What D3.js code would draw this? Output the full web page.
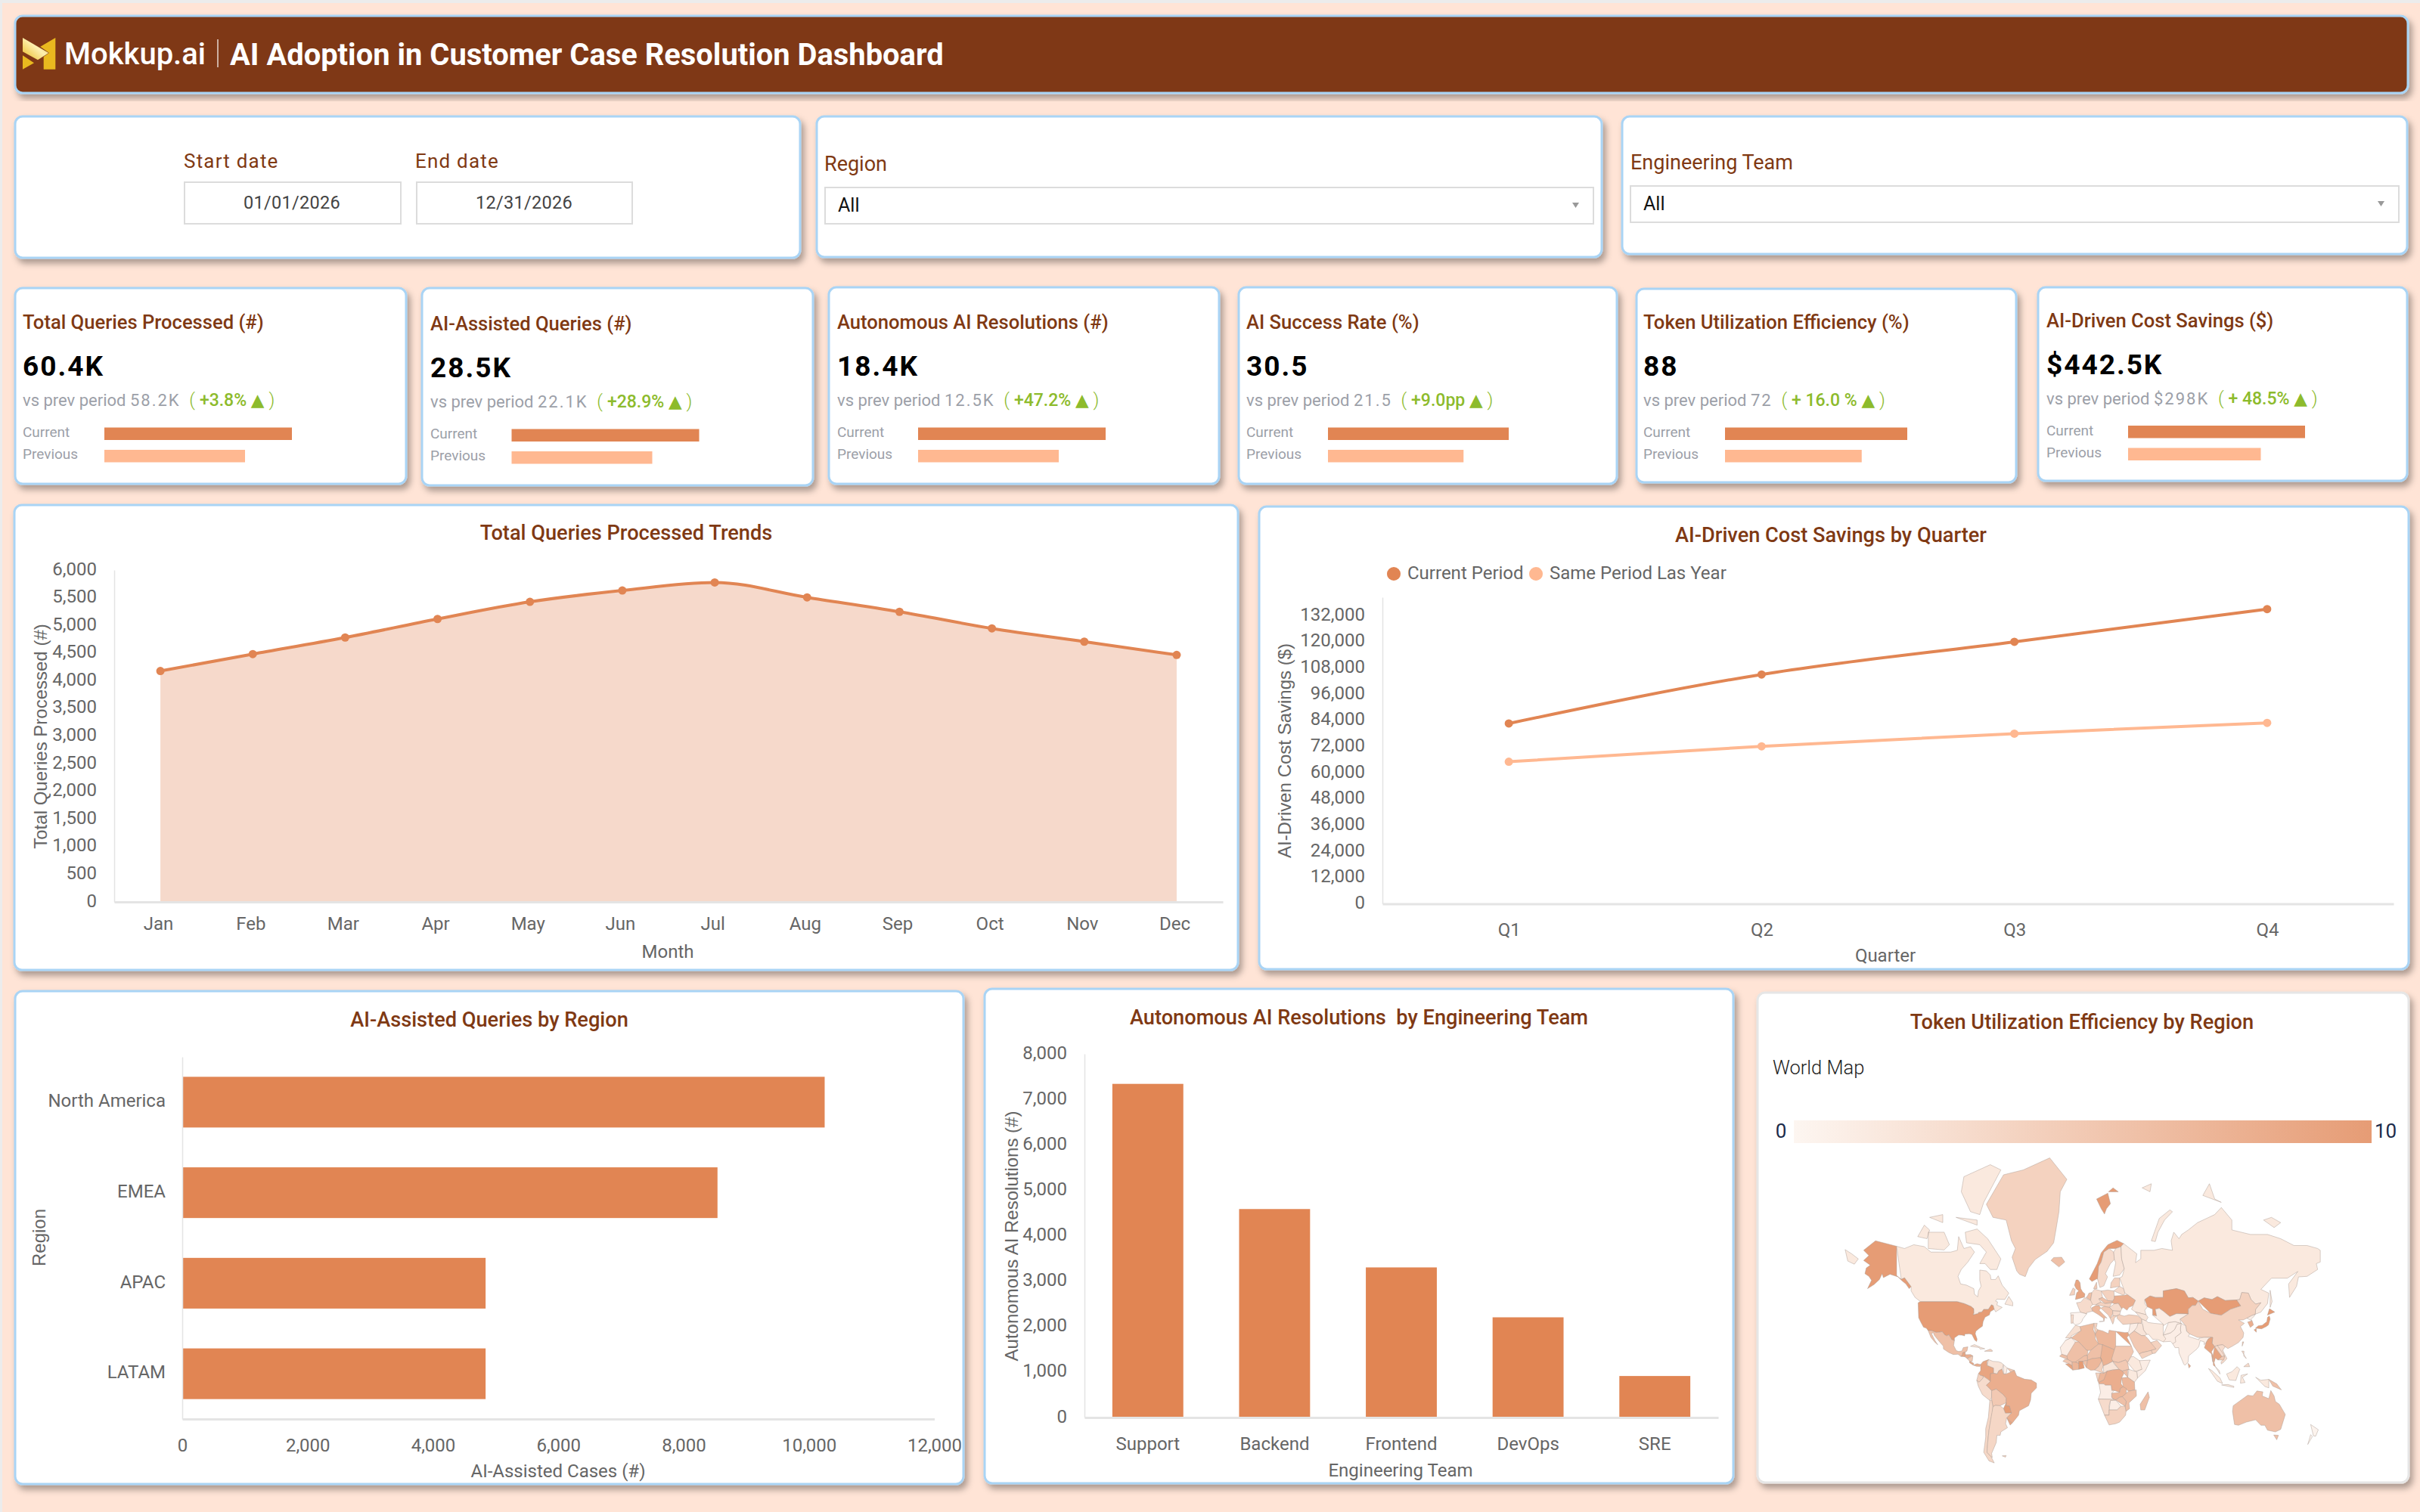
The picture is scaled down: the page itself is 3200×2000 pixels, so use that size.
<!DOCTYPE html>
<html lang="en">
<head>
<meta charset="utf-8">
<title>AI Adoption in Customer Case Resolution Dashboard</title>
<style type="text/css">
    html, body { margin: 0; padding: 0; background: #ffe4d6; overflow: hidden; }
    svg { display: block; }
    text { font-family: Roboto, sans-serif; white-space: pre; }
    .tick text, .tick-label { font-size: 24px; fill: #666; }
    .card-title { font-size: 27.2px; font-weight: 500; fill: #7f3913; text-anchor: middle; }
    .axis-title { font-size: 24px; fill: #666; text-anchor: middle; }
    .axis-title-y { font-family: "Liberation Sans", Arial, sans-serif; font-size: 24px; fill: #666; text-anchor: middle; }
    .filter-label { font-size: 26px; fill: #7f3913; }
</style>
<script src="https://d3js.org/d3.v7.min.js"></script>
</head>
<body>
<script type="text/JavaScript">

// KPI cards
var kpiTitles = ["Total Queries Processed (#)", "AI-Assisted Queries (#)", "Autonomous AI Resolutions (#)", "AI Success Rate (%)", "Token Utilization Efficiency (%)", "AI-Driven Cost Savings ($)"];
var kpiValues = ["60.4K", "28.5K", "18.4K", "30.5", "88", "$442.5K"];
var kpiPrev = ["58.2K", "22.1K", "12.5K", "21.5", "72", "$298K"];
var kpiDelta = ["+3.8%", "+28.9%", "+47.2%", "+9.0pp", "+ 16.0 %", "+ 48.5%"];
var kpiBarCurrent = [100, 100, 100, 100, 100, 100];
var kpiBarPrevious = [75, 75, 75, 75, 75, 75];

// monthly trend
var months = ["Jan", "Feb", "Mar", "Apr", "May", "Jun", "Jul", "Aug", "Sep", "Oct", "Nov", "Dec"];
var monthlyQueries = [4175, 4480, 4780, 5115, 5425, 5630, 5775, 5505, 5245, 4945, 4705, 4465];
var trendTicks = [0, 500, 1000, 1500, 2000, 2500, 3000, 3500, 4000, 4500, 5000, 5500, 6000];

// savings by quarter
var quarters = ["Q1", "Q2", "Q3", "Q4"];
var savingsCurrent = [82590, 105030, 120000, 134960];
var savingsLastYear = [65080, 72140, 77930, 82870];
var savingsTicks = [0, 12000, 24000, 36000, 48000, 60000, 72000, 84000, 96000, 108000, 120000, 132000];

// queries by region
var regions = ["North America", "EMEA", "APAC", "LATAM"];
var regionQueries = [10250, 8540, 4840, 4840];
var regionTicks = [0, 2000, 4000, 6000, 8000, 10000, 12000];

// resolutions by team
var teams = ["Support", "Backend", "Frontend", "DevOps", "SRE"];
var teamResolutions = [7340, 4586, 3302, 2204, 913];
var teamTicks = [0, 1000, 2000, 3000, 4000, 5000, 6000, 7000, 8000];

// token efficiency by country, 0-10, read from the shading of the map
var mapValues = {
    USA: 10, Canada: 1.5, Greenland: 4, Mexico: 6, Guatemala: 9, Honduras: 8, Nicaragua: 5, CostaRica: 9, Panama: 8, Cuba: 2, Hispaniola: 4,
    Colombia: 9, Venezuela: 2, Guyana: 1, Suriname: 5, Ecuador: 4, Peru: 3, Bolivia: 5, Brazil: 8, Paraguay: 10, Uruguay: 9, Chile: 3.5, Argentina: 3.5, Falklands: 4,
    Iceland: 6, UK: 9, Ireland: 4, Norway: 10, Sweden: 3, Finland: 2, Denmark: 5, Netherlands: 6, France: 3, Spain: 0.2, Portugal: 3, Germany: 3, Poland: 4, Czechia: 6, Austria: 4, Italy: 7, Sicily: 7, Balkans: 5, Greece: 4, Bulgaria: 3, Romania: 3, Ukraine: 8, Belarus: 3, Baltics: 4,
    Russia: 1.5, Svalbard: 10, Kazakhstan: 10, Mongolia: 10, China: 4, NorthKorea: 1, SouthKorea: 8, Japan: 10, Taiwan: 5, India: 1, SriLanka: 8, Pakistan: 1, Afghanistan: 1, Iran: 1.5, Iraq: 2, Levant: 1, Turkey: 4, Caucasus: 2, Saudi: 5, Yemen: 4, Oman: 4, CentralAsia: 1,
    Myanmar: 9, Thailand: 9, Laos: 3, Vietnam: 3, Cambodia: 5, Malaysia: 1.5, Indonesia: 1.5, Philippines: 3, PapuaNewGuinea: 6, Australia: 6, NewZealand: 0.3,
    Morocco: 2.5, WesternSahara: 1, Algeria: 6.5, Tunisia: 4, Libya: 7, Egypt: 9, Mauritania: 1, Mali: 6, Niger: 6, Chad: 7.5, Sudan: 5, SouthSudan: 5, Senegal: 6, Guinea: 5, SierraLeone: 9, IvoryCoast: 7, BurkinaFaso: 6, Ghana: 10, Benin: 6, Nigeria: 7, Cameroon: 4, CAR: 2, Gabon: 4, Congo: 7, DRCongo: 8, Angola: 1, Ethiopia: 1.5, Somalia: 1, Kenya: 1.5, Uganda: 6, Tanzania: 7, Zambia: 7, Mozambique: 6, Zimbabwe: 6, Botswana: 1, Namibia: 3, SouthAfrica: 4, Madagascar: 6
};

// simplified country outlines as "lon,lat" rings
var mapShapes = {
    USA: ["-124.7,48.4 -123,49 -95.2,49 -89.6,48 -84.5,46.5 -82.5,45.3 -82.4,43 -83,42 -79,42.8 -79,43.3 -76.5,43.6 -75,45 -71.5,45 -69.2,47.4 -67.8,47 -67,45 -70,43.7 -70.7,41.9 -74,40.6 -75.5,38 -76,35.2 -78.5,33.8 -81,32 -81.4,30.4 -80,26.8 -80.4,25.2 -81.8,26.2 -82.8,28 -84,30 -86,30.4 -89.4,30.2 -89.4,29 -91.5,29.5 -94,29.6 -97.2,27.7 -97.2,25.9 -99.2,26.5 -101.4,29.8 -103,29 -104.5,29.7 -106.5,31.8 -108.2,31.5 -111,31.3 -114.8,32.5 -117.1,32.5 -118.5,34 -120.6,34.6 -122.4,37.3 -124.3,40.3 -124,44",
        "-141,69.6 -141,60.3 -137.5,58.9 -135,59.5 -130,55.9 -131.5,55 -134,57 -137,58.3 -140,59.8 -146,60.8 -151,59.5 -152,61 -154,58.8 -158,56.8 -163,55 -160,58.5 -162,60 -165,61 -164,63 -161,64 -166,65.5 -162,67 -166,68.5 -157,71 -148,70.4"],
    Canada: ["-141,69.6 -135,69 -128,70 -120,69.5 -115,68 -108,68 -100,68 -95,68.5 -94,72 -90,69 -85,69.5 -82,68 -87,65 -92,62.5 -94.5,60 -92.5,57 -88,56.5 -82.5,55 -82,52.5 -79.5,51.3 -79,54 -77,56 -78,58.5 -78,62.3 -73,62 -70,60.5 -69.5,58.8 -66,58.8 -64,60.2 -61,56.5 -56,53 -59,50 -65,50.2 -66,49.2 -64.5,48.8 -65,47.2 -61,46 -64,44.5 -66,43.6 -67,45 -67.8,47 -69.2,47.4 -71.5,45 -75,45 -76.5,43.6 -79,43.3 -79,42.8 -83,42 -82.4,43 -82.5,45.3 -84.5,46.5 -89.6,48 -95.2,49 -123,49 -127,51 -130,54 -130,55.9 -135,59.5 -137.5,58.9 -141,60.3",
        "-62,66 -65,62.5 -70,62.5 -74,64.5 -78,64.5 -73,68 -78,70 -88,70.5 -89,73 -80,73.7 -72,71.5 -66,68",
        "-117,69 -105,68.6 -101,70 -105,73 -117,73 -118,71",
        "-62,82.5 -70,83 -90,81.8 -92,80 -85,77 -78,76.5 -75,78.5 -68,80.5",
        "-125,72 -118,71.5 -116,73.5 -120,74.5 -125,74",
        "-96,76 -80,75.5 -80,74.5 -95,74",
        "-116,76 -106,75 -106,76.5 -118,77",
        "-59,47.7 -53,46.8 -53,48.5 -56,51.5 -58,50"],
    Greenland: ["-73,78.2 -68,76 -58,75.5 -54,71 -51,69 -53.5,66.5 -50,62 -48,60.8 -43.5,59.9 -41,63 -36,65.8 -27,68.2 -22,70.5 -20,74 -18,77 -17,80 -12,81.5 -25,83.6 -45,82.5 -60,82 -66,80.5"],
    Mexico: ["-117.1,32.5 -114.8,32.5 -111,31.3 -108.2,31.5 -106.5,31.8 -104.5,29.7 -103,29 -101.4,29.8 -99.2,26.5 -97.2,25.9 -97.8,22.5 -95.8,18.8 -94,18.2 -91.5,18.6 -90.5,21 -87,21.5 -87.7,18.5 -89,17.9 -91,17.2 -91,16 -92.2,14.6 -94.5,16.2 -98,16 -101.5,17.5 -105.5,20 -105.6,22 -109,25.6 -112.5,29.5 -113,31 -114.7,30.8 -112,26 -109.8,23 -112,24.7 -115,28 -116,30.5"],
    Guatemala: ["-92.2,14.6 -91,16 -91,17.2 -89,17.9 -89,15.9 -88.5,15.8 -89.4,14.4 -90.5,13.9"],
    Honduras: ["-89,15.9 -89.4,14.4 -87.5,13 -85,14.5 -83.2,15 -85,16 -88,15.8"],
    Nicaragua: ["-87.5,13 -85.7,11.1 -83.7,11 -83.2,15 -85,14.5"],
    CostaRica: ["-85.7,11.1 -85.8,10 -83,8.2 -82.6,9.5 -83.7,11"],
    Panama: ["-83,8.2 -80.5,7.3 -77.9,7.2 -77.4,8.6 -80,9.2 -82.6,9.5"],
    Cuba: ["-85,21.9 -82,23.1 -77,21 -74.2,20.2 -77.7,19.9 -78.5,21 -82,22.3"],
    Hispaniola: ["-74.4,18.4 -68.5,18.3 -68.5,19 -70,19.9 -73.3,20"],
    Colombia: ["-77.4,8.6 -75.5,10.8 -71.3,12.3 -72.5,10.5 -72.4,8 -70,7 -67.5,6 -67.5,2 -69.9,1.7 -69.9,-4.2 -72,-2.5 -75.3,-0.2 -77.5,0.4 -79,1.8 -77.3,4 -77.9,7.2"],
    Venezuela: ["-71.3,12.3 -68,11 -64,10.7 -61.8,10 -60,8.5 -61,5.2 -63.5,4 -64.8,1.5 -67.5,2 -67.5,6 -70,7 -72.4,8 -72.5,10.5"],
    Guyana: ["-60,8.5 -57.2,6 -58,1.5 -60,1.5 -61,5.2"],
    Suriname: ["-57.2,6 -51.7,4.2 -54,2.2 -58,1.5"],
    Ecuador: ["-79,1.8 -77.5,0.4 -75.3,-0.2 -75.5,-1.6 -78.5,-4.8 -80.3,-3.4 -81,-1"],
    Peru: ["-80.3,-3.4 -78.5,-4.8 -75.5,-1.6 -75.3,-0.2 -72,-2.5 -69.9,-4.2 -73,-7 -70.5,-9.5 -69,-11 -69,-16 -70.4,-18.3 -76,-14 -79,-8 -81.3,-5"],
    Bolivia: ["-69,-11 -65.5,-9.8 -60.5,-13.7 -58,-16.5 -58,-19.9 -62.6,-22 -66.3,-21.8 -68,-22.8 -69,-18 -69,-16"],
    Brazil: ["-51.7,4.2 -50,0 -44,-2.5 -39,-3 -35,-5.5 -35,-9 -39,-13 -39.5,-18 -41,-22 -48,-25.5 -48.6,-28.5 -53.4,-33.7 -57.6,-30.2 -54,-27 -54.6,-25.5 -55.5,-22.3 -58,-22 -58,-19.9 -58,-16.5 -60.5,-13.7 -65.5,-9.8 -69,-11 -70.5,-9.5 -73,-7 -69.9,-4.2 -69.9,1.7 -67.5,2 -64.8,1.5 -63.5,4 -61,5.2 -60,1.5 -58,1.5 -54,2.2"],
    Paraguay: ["-58,-19.9 -58,-22 -55.5,-22.3 -54.6,-25.5 -54,-27 -58.6,-27.2 -60,-24 -62.6,-22"],
    Uruguay: ["-57.6,-30.2 -53.4,-33.7 -55,-34.9 -58.4,-34"],
    Chile: ["-70.4,-18.3 -69,-18 -68,-22.8 -68.5,-27 -70,-33 -71,-38 -72,-45 -72.5,-50 -69.5,-52 -67,-54.9 -71,-54 -75,-50 -73.5,-42 -73.5,-37 -71.5,-30 -70.5,-24"],
    Argentina: ["-68,-22.8 -66.3,-21.8 -62.6,-22 -60,-24 -58.6,-27.2 -54,-27 -57.6,-30.2 -58.4,-34 -57,-36.5 -62,-39 -62.5,-41 -65,-41 -65.5,-45 -69,-50.5 -68.5,-52.5 -69.5,-52 -72.5,-50 -72,-45 -71,-38 -70,-33 -68.5,-27"],
    Falklands: ["-61,-51.7 -58,-51.5 -58.5,-52.3 -60.5,-52.3"],
    Iceland: ["-24,65.5 -22,66.4 -16,66.5 -13.6,65 -18,63.4 -22.5,63.8"],
    UK: ["-5.5,50 1.3,51.2 1.7,52.7 0,53.5 -1.5,55 -2,57.5 -3.5,58.6 -5,58.6 -6.2,56.5 -5,55 -3,54 -4.5,53.2 -5,52 -3,51.4"],
    Ireland: ["-10,52 -6.2,52.2 -6,54 -5.6,54.6 -7.3,55.3 -10,54.2"],
    Norway: ["5,59 7,58 10.5,59 11.8,59 12.5,61 12,63.5 14,65 16,68 20,69 25,69 29,69.5 31,70.3 26,71.1 19,70 14,67.8 11,64.5 5.2,62"],
    Sweden: ["11.2,59 13,55.5 16,56.2 18.8,59.8 17.2,61 21,64.5 24,65.8 23.5,68 20,69 16,68 14,65 12,63.5 12.5,61"],
    Finland: ["23,60 28,60.5 31.5,62.8 29.5,66 29,69.5 25,69 23.5,68 24,65.8 25,64.8 21.3,62.8"],
    Denmark: ["8.2,55 10.9,55 10.5,57.7 8.2,57"],
    Netherlands: ["2.5,51 3.4,51.4 4.7,53 7,53.3 6,49.6 4.2,50"],
    France: ["-4.7,48.4 -1.5,48.7 1.5,50.9 4.2,50 6,49.6 8.2,49 7.5,47.5 6,46.3 7.5,44 3,43.2 3,42.5 -1.8,43.4 -1.2,46"],
    Spain: ["-9.3,43 -1.8,43.4 3,42.5 0,39.5 -0.7,38 -2.2,36.8 -5.5,36 -7.4,37.2 -7,42"],
    Portugal: ["-8.8,37 -7.4,37.2 -7,42 -8.9,41.9 -9.5,38.8"],
    Germany: ["6,49.6 7,53.3 9,54.8 14,54 15,51 12.2,50.3 13.8,48.7 10,47.4 7.5,47.5 8.2,49"],
    Poland: ["14,54 19,54.4 23.6,54 24,50.5 22.5,49.2 19,49.4 15,51"],
    Czechia: ["12.2,50.3 15,51 19,49.4 22.5,49.2 22,48.4 17,48 13.8,48.7"],
    Austria: ["10,47.4 13.8,48.7 17,48 22,48.4 20.3,46 16.5,46.5 12.5,46.8"],
    Italy: ["7.5,44 6.9,45.8 10,47 12.5,46.8 13.7,45.6 12.4,44.5 16,41.8 18.5,40 16.8,40.5 16,38 15.7,40 12,42 10,44"],
    Sicily: ["12.5,38 15.6,38.2 15,36.7"],
    Balkans: ["13.7,45.6 16.5,46.5 20.3,46 22.7,44.3 22.7,42.5 20.8,40 19.4,41.8 16,43.5"],
    Greece: ["20.8,40 22.9,41.4 26,41.4 24,40.2 23.5,38 22.8,36.5 21.2,37.5"],
    Bulgaria: ["22.7,44.3 28.7,44 28,42 26,41.4 22.9,41.4 22.7,42.5"],
    Romania: ["20.3,46 22.7,44.3 28.7,44 29.7,45.3 27,48.2 24,47.9 22,48.4"],
    Ukraine: ["24,50.5 24,51.7 31,52 34,52.3 40,49.6 38.2,47 35,46 33.6,44.5 30.5,46 29.7,45.3 27,48.2 24,47.9 22,48.4 22.5,49.2"],
    Belarus: ["23.6,54 28,56 31,55 32,53 31,52 24,51.7"],
    Baltics: ["21,55.3 21.5,57.5 24,59.4 28,59.4 28,56 23.6,54"],
    Russia: ["28,59.4 30,60 31.5,62.8 29.5,66 29,69.5 31,70.3 41,67.5 40,64.8 44,66 44,68.5 54,68.5 60,69 68,68.5 67,71 69,73 73,71.5 75,72.5 80,73.5 87,75 100,76.5 105,77.7 113,75.5 113,73.5 127,72.5 140,72.5 150,71.5 160,69.8 170,69.8 178,69 180,68.5 180,65 177,64.5 178,62.5 170,60 163.5,59.8 162,56 156.7,51 156,57 163,61.8 155,59.3 143,59.3 135,54.7 141,53 140,48 135,43.5 130.7,42.3 131,45 135,48.4 131,47.7 127.5,50 125.5,53 120.5,53.3 119,50 116.7,49.8 108,49.5 102,51.4 98,50 92,50.8 87.5,49.2 83.5,51 80,50.8 77,54 71,55 61,54 61,51 55,51 51,51.7 47,50 47,48 49,46.3 47,44.5 48,42 45,42.6 40,43.5 37,45 38.2,47 40,49.6 34,52.3 32,53 31,55 28,56",
        "142,54.3 143.5,49 142,46 142,50",
        "52,71 55,70.8 57,73 62,75.5 68,77 66,77.3 58,75.8 54,73",
        "45,80.5 52,81 51,80 47,79.8",
        "91,79.5 96,81 100,79 105,78.5 100,78",
        "137,75.5 143,76 150,75 145,74 138,74",
        "-180,68.7 -175,67.5 -170,66 -173,64.3 -178,65.3 -180,65"],
    Svalbard: ["10.5,79 14,77.5 16.5,76.6 18,77.5 21,78.3 19,79.8 14,79.9", "19.5,80 23,80.5 27,80 22,79.3"],
    Kazakhstan: ["47,50 51,51.7 55,51 61,51 61,54 71,55 77,54 80,50.8 83.5,51 87.5,49.2 85.5,47 83,47 80,45 80,42.5 71,42.6 66,41 61,44 58,45.5 55,45 56,41.3 53,41.8 53,45 49,46.3 47,48"],
    Mongolia: ["87.5,49.2 92,50.8 98,50 102,51.4 108,49.5 116.7,49.8 119.8,46.8 112,45 105,41.7 97,42.8 91,45"],
    China: ["73.7,39.5 80,42.5 80,45 83,47 85.5,47 87.5,49.2 91,45 97,42.8 105,41.7 112,45 119.8,46.8 116.7,49.8 119,50 120.5,53.3 125.5,53 127.5,50 131,47.7 135,48.4 131,45 130.7,42.3 128,41.5 124.3,40 121.5,39 118,39 122.5,37 119.5,35 122,31 121.5,28 118,24.5 113.5,22 110,20.3 108,21.6 106,23 102,22.5 100,21.6 98,24 98.5,28 92,28 87,28 81,30.3 78.7,32 78,35.5 74.5,37"],
    NorthKorea: ["124.3,40 128,41.5 130.7,42.3 129.7,41 127.5,39.5 128.3,38.5 125,37.8"],
    SouthKorea: ["125,37.8 128.3,38.5 129.4,36 127,34.5 126.3,35"],
    Japan: ["130.9,34 133,35.5 136,35.8 139.5,38 140,40.5 141.4,41.3 142,39.5 140.7,36 139,35 135.5,33.6 132.5,34.2",
        "129.8,33 131.5,33.7 131.5,31.4 130.3,31.3",
        "140,41.8 141.5,45.3 145.5,43.5 143,42"],
    Taiwan: ["121,25 122,25 120.8,22 120.1,23"],
    India: ["68.2,23.7 70,20.9 72.7,21 73,17 74.8,13 76.5,9 77.5,8 79.8,10.3 80.2,15 82.5,16.8 86.5,20 88,21.8 89,25.8 92,25 92,23 93.5,24.5 95.2,27 97.3,28 92,28 88.2,27.5 88,26.4 80,28.7 81,30.3 78.7,32 78,35.5 74.5,37 74,33 74.5,31 70,28 70.5,25"],
    SriLanka: ["79.8,9.5 81.8,7.5 80.5,6 79.8,7"],
    Pakistan: ["61,25 66.5,25.3 68.2,23.7 70.5,25 70,28 74.5,31 74,33 74.5,37 71.5,36.5 69.5,33 66.5,31 61,29.5 63,27"],
    Afghanistan: ["61,29.5 66.5,31 69.5,33 71.5,36.5 74.5,37 70,38 65,37.5 61,35.5"],
    Iran: ["44.5,39.7 48,38.5 49.5,37.5 54,37 61,36.5 61,35.5 61,29.5 63,27 61,25 57,26.5 53,26.8 50,30 48.5,30 46,33 45.5,36 44.5,37"],
    Iraq: ["42,37.2 44.5,37 45.5,36 46,33 48.5,30 47,29.2 44.5,29.2 39,32.3 41,34.5"],
    Levant: ["36,36.7 42,37.2 41,34.5 39,32.3 34.9,29.4 34.2,31.3 35,32 36,34.5"],
    Turkey: ["26,40 26.3,41.7 28,42 31.5,41.2 35,42 41.5,41.5 44.5,39.7 44.5,37 42,37.2 36,36.7 30.5,36.3 27.5,37"],
    Caucasus: ["40,43.5 45,42.6 48,42 49.5,40.5 48,38.5 44.5,39.7 41.5,41.5"],
    Saudi: ["34.9,29.4 39,32.3 44.5,29.2 47,29.2 48.5,28 50,26.5 51.5,24.5 55,22.7 55.6,20 52,19 48.8,18.2 45,17.4 42.8,16.4 39,21.5 37,25"],
    Yemen: ["42.8,16.4 45,17.4 48.8,18.2 52,19 53,16.7 45,13 43.3,12.7"],
    Oman: ["51.5,24.5 56.3,26 58.7,23.5 59.8,22.5 55,17 53,16.7 52,19 55.6,20 55,22.7"],
    CentralAsia: ["53,41.8 56,41.3 55,45 58,45.5 61,44 66,41 71,42.6 80,42.5 73.7,39.5 74.5,37 70,38 65,37.5 61,35.5 61,36.5 54,37"],
    Myanmar: ["92.2,20.8 93.5,24.5 95.2,27 97.3,28 98.5,28 98,24 100,21.6 97.5,18 98.7,15 98.5,10.5 97.5,16.5 94.5,16"],
    Thailand: ["100,21.6 103,18.5 105.5,14.5 102.5,12 100.5,13.5 99.5,10 100.5,7 99,8 98.7,15 97.5,18"],
    Laos: ["100,21.6 102,22.5 106,19 107.5,15 105.5,14.5 103,18.5"],
    Vietnam: ["102,22.5 106,23 108,21.6 106,19 109.3,13 107,10.5 105,9 104.8,10.5 107,13 107.5,15 106,19"],
    Cambodia: ["102.5,12 105.5,14.5 107.5,15 106.8,12 104.8,10.5"],
    Malaysia: ["100.5,7 103.5,4 104,1.4 101.5,2.8"],
    Indonesia: ["109,1.5 113,3.2 117,7 119,5 117.5,1 116,-3.5 111,-3 109,0",
        "95.3,5.6 98,4 104,-1.5 106,-5.8 102,-4 98,0",
        "105.2,-6.8 110,-6.5 114.5,-7.8 114.5,-8.7 106,-7.8",
        "119.5,-5.5 120,0.5 125,1.5 121,-1 123,-5 121,-3",
        "131,-1 135,-3.3 141,-2.6 141,-9 138,-8 135,-4.5"],
    Philippines: ["120.5,18.5 122.2,18.4 122,15 124,13 120.5,14", "122,7 125.5,9.7 126.5,7 124,6"],
    PapuaNewGuinea: ["141,-2.6 147,-6 150.5,-10.5 144,-7.7 141,-9"],
    Australia: ["114,-22 113.5,-26 115,-34.5 118,-35 124,-33 131,-31.5 135,-35 138,-35 140,-38 146,-39 150,-37.5 153.5,-28 149,-21 146,-19 145,-15 142.5,-11 141,-17 136,-15 136.5,-12 132,-11.3 129,-15 125,-14.5 122,-18",
        "144.7,-40.8 148.3,-41 147,-43.5 146,-43.5"],
    NewZealand: ["172.7,-34.5 178.5,-37.7 176.5,-41.5 174.8,-41.3 174.8,-38", "172.7,-40.6 174,-41.7 170.5,-46 166.5,-46"],
    Morocco: ["-13,27.7 -8.7,27.7 -8.7,29 -2,32 -1.2,32.4 -2,35 -5.5,35.8 -9.8,31.5"],
    WesternSahara: ["-17,21 -13,21.3 -13,26 -8.7,27.7 -13,27.7"],
    Algeria: ["-8.7,27.7 -3,25 3,19 6,19 12,23.5 9.5,27 9.5,30 8,33 8.5,37 -2,35 -1.2,32.4 -2,32 -8.7,29"],
    Tunisia: ["8.5,37 11,37 10.2,34 11.5,33 9.5,30 8,33"],
    Libya: ["9.5,30 11.5,33 15,32.3 19.5,30.5 20,32.7 25,32 25,20 24,19.5 15,23 12,23.5 9.5,27"],
    Egypt: ["25,32 32,31.2 34.2,31.3 34.9,29.4 33.5,28 36.9,22 25,22"],
    Mauritania: ["-17,21 -16,16.2 -12,15 -5.5,15.5 -5.5,25 -8.7,27.7 -13,26 -13,21.3"],
    Mali: ["-12,15 -11.5,12.4 -8,10.5 -5.5,10.5 -3,11 1,15 3.5,15.4 4,19 3,19 -3,25 -5.5,25 -5.5,15.5"],
    Niger: ["3.5,15.4 3.6,11.7 7,13 13.5,13.7 15.5,16.8 15,23 12,23.5 6,19 4,19"],
    Chad: ["13.5,13.7 15,10 15.5,7.5 19,9 22.8,11 22,13 24,15.7 24,19.5 15,23 15.5,16.8"],
    Sudan: ["24,19.5 25,22 36.9,22 38.5,18 36.5,14.3 34,10 32.5,12 27,10 22.8,11 22,13 24,15.7"],
    SouthSudan: ["22.8,11 27,10 32.5,12 34,10 35,5 30,3.7 27.5,5 24,8.7"],
    Senegal: ["-17.5,14.7 -16,16.2 -12,15 -11.5,12.4 -16.7,12.4"],
    Guinea: ["-15,11 -13.7,12.4 -11.5,12.4 -8,10.5 -8,7.8 -10.5,9.2 -13,9"],
    SierraLeone: ["-13,9 -10.5,9.2 -8,7.8 -7.5,4.4 -11.5,7"],
    IvoryCoast: ["-8,10.5 -5.5,10.5 -3,9.5 -2.9,5 -7.5,4.4 -8,7.8"],
    BurkinaFaso: ["-5.5,10.5 -3,9.5 -3,11 0,11 2.5,11.5 3.6,11.7 3.5,15.4 1,15 -3,11"],
    Ghana: ["-3,11 0,11 1.2,6 -2.9,5 -3,9.5"],
    Benin: ["0,11 3.6,11.7 2.7,6.3 1.2,6"],
    Nigeria: ["2.7,6.3 3.6,11.7 7,13 13.5,13.7 14.5,11.5 12,7 9,4.5 6,4.3 4.5,6.3"],
    Cameroon: ["9,4.5 12,7 14.5,11.5 13.5,13.7 15,10 15.5,7.5 14.5,4.5 16,2 9.8,2.3"],
    CAR: ["15.5,7.5 19,9 22.8,11 24,8.7 27.5,5 22.5,4.5 18.5,3.6 16,2 14.5,4.5"],
    Gabon: ["9.8,2.3 13.3,2.2 14.4,-2 11.5,-4 8.8,-0.7"],
    Congo: ["13.3,2.2 16,2 18.5,3.6 17.8,-1 16,-3 12,-5 11.5,-4 14.4,-2"],
    DRCongo: ["18.5,3.6 22.5,4.5 27.5,5 30,3.7 31.3,2 29.5,-1.5 29,-6 30.7,-8.2 28.5,-9.5 28,-12.3 24,-11 22,-11 21.5,-7 17,-7 16,-6 12.3,-6 12,-5 16,-3 17.8,-1"],
    Angola: ["12.3,-6 16,-6 17,-7 21.5,-7 22,-11 24,-11 22,-13 22,-16 23.5,-17.5 13.8,-17.3 11.8,-17.3 13.5,-12.5 13.5,-9"],
    Ethiopia: ["34,10 36.5,14.3 38.5,14.5 43,11.5 47.9,8 44.9,5 41.8,3.9 39.5,3.5 35,5"],
    Somalia: ["43,11.5 51.2,11.9 47.5,4 41.5,-1.7 41,3 41.8,3.9 44.9,5 47.9,8"],
    Kenya: ["35,5 39.5,3.5 41,3 41.5,-1.7 39.2,-4.7 34,-1 34,4"],
    Uganda: ["31.3,2 30,3.7 35,5 34,4 34,-1 29.5,-1.5"],
    Tanzania: ["29.5,-1.5 34,-1 39.2,-4.7 39.5,-10.5 34.7,-11.5 30.7,-8.2 29,-6"],
    Zambia: ["28,-12.3 28.5,-9.5 30.7,-8.2 33,-9.5 33,-14 30,-15.5 28,-16 25,-18 23.5,-17.5 22,-16 22,-13 24,-11"],
    Mozambique: ["34.7,-11.5 40.5,-10.5 40.7,-15 35,-20 35.5,-24 32.8,-26 32,-22.3 32.5,-21 33,-19 30.5,-16 30,-15.5 33,-14"],
    Zimbabwe: ["25,-18 28,-16 30,-15.5 30.5,-16 33,-19 32.5,-21 32,-22.3 29,-22.4"],
    Botswana: ["21,-18.3 25,-18 29,-22.4 26,-25 20,-25 20,-22"],
    Namibia: ["11.8,-17.3 13.8,-17.3 23.5,-17.5 25,-18 21,-18.3 20,-22 20,-28.5 16.5,-28.5 14.5,-23"],
    SouthAfrica: ["16.5,-28.5 20,-28.5 20,-25 26,-25 29,-22.4 32,-22.3 32.8,-26 32.5,-28.5 28,-33 25,-34 20,-34.8 18.3,-34"],
    Madagascar: ["49.5,-12 50.5,-16 47,-25 44,-25 43.5,-21 44.5,-16.5"]
};

var brown = "#7f3913", orange = "#e18553", peach = "#ffb891", cardBlue = "#a9d4f5";

var svg = d3.select("body").append("svg")
    .attr("width", 3200)
    .attr("height", 2000);

var defs = svg.append("defs");
var shadow = defs.append("filter").attr("id", "shadow")
    .attr("x", "-5%").attr("y", "-5%").attr("width", "110%").attr("height", "115%");
shadow.append("feDropShadow")
    .attr("dx", 4).attr("dy", 6).attr("stdDeviation", 4)
    .attr("flood-color", "#000").attr("flood-opacity", 0.33);

var logoShine = defs.append("linearGradient").attr("id", "logoShine")
    .attr("x1", "0%").attr("y1", "100%").attr("x2", "100%").attr("y2", "0%");
logoShine.append("stop").attr("offset", "0%").attr("stop-color", "#e9b91f");
logoShine.append("stop").attr("offset", "55%").attr("stop-color", "#fdf0b0");
logoShine.append("stop").attr("offset", "100%").attr("stop-color", "#e5b522");

// the reference map is a soft raster
defs.append("filter").attr("id", "mapSoft")
    .append("feGaussianBlur").attr("stdDeviation", 0.6);

svg.append("rect").attr("width", 3200).attr("height", 2000).attr("fill", "#ececec");
svg.append("rect").attr("x", 3).attr("y", 4).attr("width", 3197).attr("height", 1996).attr("fill", "#ffe4d6");

function card(x, y, x2, y2, stroke, fill) {
    svg.append("rect")
        .attr("x", x).attr("y", y)
        .attr("width", x2 - x).attr("height", y2 - y)
        .attr("rx", 10)
        .attr("fill", fill || "#fff")
        .attr("stroke", stroke || cardBlue)
        .attr("stroke-width", 3)
        .attr("filter", "url(#shadow)");
}

function label(parent, cls, x, y, txt) {
    return parent.append("text").attr("class", cls).attr("x", x).attr("y", y).text(txt);
}

// rotated y axis title
function yTitle(x, y, txt) {
    svg.append("text")
        .attr("class", "axis-title-y")
        .attr("transform", "translate(" + x + "," + y + ") rotate(-90)")
        .text(txt);
}

// shared look of the d3 axes
function styleAxis(g, domainWidth, dx, dy) {
    g.select(".domain").attr("stroke", "#e4e4e4").attr("stroke-width", domainWidth);
    g.selectAll(".tick text").attr("dx", dx).attr("dy", dy);
}

//HEADER
card(20, 21, 3184, 123, cardBlue, brown);
svg.append("polygon").attr("points", "53.3,61.7 73.3,50 73.3,91.7 57.7,91.7 57.7,75 65,70").attr("fill", "#e9b91f");
svg.append("polygon").attr("points", "30,73.3 45,83.3 30,91.7").attr("fill", "#e9b91f");
svg.append("polygon").attr("points", "30,50 64.3,70 50,79.3 30,68.3").attr("fill", "url(#logoShine)");
svg.append("text").attr("x", 85).attr("y", 85).attr("fill", "#fff")
    .style("font-size", "40px").style("font-weight", 500).text("Mokkup.ai");
svg.append("line").attr("x1", 288).attr("x2", 288).attr("y1", 52).attr("y2", 89)
    .attr("stroke", "#fff").attr("stroke-width", 1.5).attr("opacity", 0.8);
svg.append("text").attr("x", 304).attr("y", 86).attr("fill", "#fff")
    .style("font-size", "39.9px").style("font-weight", 700).text("AI Adoption in Customer Case Resolution Dashboard");

//FILTERS
card(20, 154, 1058, 341);
card(1080, 154, 2118, 340);
card(2145, 154, 3183, 336);

function inputBox(x, y, w, h, txt, anchor, tx, ty) {
    svg.append("rect").attr("x", x).attr("y", y).attr("width", w).attr("height", h)
        .attr("fill", "#fff").attr("stroke", "#dcdcdc").attr("stroke-width", 2);
    svg.append("text").attr("x", tx).attr("y", ty)
        .attr("text-anchor", anchor).attr("fill", anchor == "middle" ? "#444" : "#111")
        .style("font-size", anchor == "middle" ? "23.5px" : "25px")
        .style("letter-spacing", anchor == "middle" ? "0.3px" : "0").text(txt);
}

label(svg, "filter-label", 243, 222, "Start date").style("letter-spacing", "1.2px");
label(svg, "filter-label", 549, 222, "End date").style("letter-spacing", "1.2px");
inputBox(244, 241, 286, 55, "01/01/2026", "middle", 386, 276);
inputBox(551, 241, 285, 55, "12/31/2026", "middle", 693, 276);

label(svg, "filter-label", 1090, 226, "Region").style("font-size", "27px");
inputBox(1091, 248, 1016, 48, "All", "start", 1108, 280);
svg.append("path").attr("d", "M2079,268 h9 l-4.5,7 z").attr("fill", "#999");

label(svg, "filter-label", 2156, 224, "Engineering Team").style("font-size", "27px");
inputBox(2156, 246, 1016, 48, "All", "start", 2173, 278);
svg.append("path").attr("d", "M3144,266 h9 l-4.5,7 z").attr("fill", "#999");

//KPI CARDS
var kpiBoxes = [
    { x: 20, x2: 537, y: 381, y2: 640, tx: 30, barX: 138, barW: 248, dy: 0 },
    { x: 558, x2: 1075, y: 381, y2: 642, tx: 569, barX: 676.5, barW: 248, dy: 2 },
    { x: 1096, x2: 1612, y: 380, y2: 640, tx: 1107, barX: 1214, barW: 248, dy: 0 },
    { x: 1638, x2: 2138, y: 380, y2: 640, tx: 1648, barX: 1756, barW: 239, dy: 0 },
    { x: 2164, x2: 2666, y: 382, y2: 638, tx: 2173, barX: 2281, barW: 241, dy: 0 },
    { x: 2695, x2: 3183, y: 380, y2: 636, tx: 2706, barX: 2814, barW: 234, dy: -2.5 }
];

kpiBoxes.forEach(function(b, i) {
    card(b.x, b.y, b.x2, b.y2);
    var barScale = d3.scaleLinear().domain([0, 100]).range([0, b.barW]);

    svg.append("text").attr("x", b.tx).attr("y", 435 + b.dy).attr("fill", brown)
        .style("font-size", "25.6px").style("font-weight", 500).text(kpiTitles[i]);
    svg.append("text").attr("x", b.tx).attr("y", 497 + b.dy).attr("fill", "#000")
        .style("font-size", "37px").style("font-weight", 700).style("letter-spacing", "2px").text(kpiValues[i]);

    var sub = svg.append("text").attr("x", b.tx).attr("y", 537 + b.dy).style("font-size", "22px");
    sub.append("tspan").attr("fill", "#9ca0a8").text("vs prev period ");
    sub.append("tspan").attr("fill", "#9ca0a8").style("letter-spacing", "2px").text(kpiPrev[i]);
    sub.append("tspan").attr("fill", "#8dbb2c").style("font-weight", 300).style("font-size", "24px").text("  ( ");
    sub.append("tspan").attr("fill", "#8dbb2c").style("font-weight", 500).style("font-size", "23px").text(kpiDelta[i] + " ");
    sub.append("tspan").attr("fill", "#8dbb2c").style("font-family", "'DejaVu Sans'").style("font-size", "23px").text("\u25B2");
    sub.append("tspan").attr("fill", "#8dbb2c").style("font-weight", 300).style("font-size", "24px").text(" )");

    svg.append("text").attr("x", b.tx).attr("y", 578 + b.dy).attr("fill", "#9ca0a8").style("font-size", "19px").text("Current");
    svg.append("text").attr("x", b.tx).attr("y", 607 + b.dy).attr("fill", "#9ca0a8").style("font-size", "19px").text("Previous");
    svg.append("rect").attr("x", b.barX).attr("y", 565.5 + b.dy).attr("height", 16.5)
        .attr("width", barScale(kpiBarCurrent[i])).attr("fill", orange);
    svg.append("rect").attr("x", b.barX).attr("y", 595 + b.dy).attr("height", 16.5)
        .attr("width", barScale(kpiBarPrevious[i])).attr("fill", peach);
});

//TOTAL QUERIES TREND
card(19, 668, 1637, 1283);
label(svg, "card-title", 828, 714, "Total Queries Processed Trends");

var trendX = d3.scalePoint().domain(months).range([151, 1617]).padding(0.5);
var trendY = d3.scaleLinear().domain([0, 6000]).range([1193, 754]);

var area = d3.area()
    .x(function(d, i) { return trendX(months[i]); })
    .y0(trendY(0))
    .y1(function(d) { return trendY(d); })
    .curve(d3.curveMonotoneX);
var trendLine = d3.line()
    .x(function(d, i) { return trendX(months[i]); })
    .y(function(d) { return trendY(d); })
    .curve(d3.curveMonotoneX);

svg.append("path").attr("d", area(monthlyQueries)).attr("fill", "#f6d9cb");

svg.append("g").attr("transform", "translate(151,0)")
    .call(d3.axisLeft(trendY).tickValues(trendTicks).tickFormat(d3.format(",")).tickSize(0).tickPadding(23))
    .call(styleAxis, 1.5, 0, "0.25em");
svg.append("g").attr("transform", "translate(0,1193)")
    .call(d3.axisBottom(trendX).tickSize(0).tickPadding(20))
    .call(styleAxis, 3, -3, "0.71em");

svg.append("path").attr("d", trendLine(monthlyQueries))
    .attr("fill", "none").attr("stroke", orange).attr("stroke-width", 4);
svg.selectAll(".trend-dot").data(monthlyQueries).enter().append("circle")
    .attr("class", "trend-dot")
    .attr("cx", function(d, i) { return trendX(months[i]); })
    .attr("cy", function(d) { return trendY(d); })
    .attr("r", 5.5)
    .attr("fill", orange);

yTitle(62, 974, "Total Queries Processed (#)");
label(svg, "axis-title", 883, 1267, "Month");

//COST SAVINGS
card(1665, 670, 3185, 1282);
label(svg, "card-title", 2421, 717, "AI-Driven Cost Savings by Quarter");

var savingsX = d3.scalePoint().domain(quarters).range([1828, 3165]).padding(0.5);
var savingsY = d3.scaleLinear().domain([0, 140400]).range([1195.5, 790]);

svg.append("g").attr("transform", "translate(1828,0)")
    .call(d3.axisLeft(savingsY).tickValues(savingsTicks).tickFormat(d3.format(",")).tickSize(0).tickPadding(23))
    .call(styleAxis, 1.5, 0, "0.25em");
svg.append("g").attr("transform", "translate(0,1195.5)")
    .call(d3.axisBottom(savingsX).tickSize(0).tickPadding(25))
    .call(styleAxis, 3, 0, "0.71em");

var savingsLine = d3.line()
    .x(function(d, i) { return savingsX(quarters[i]); })
    .y(function(d) { return savingsY(d); })
    .curve(d3.curveMonotoneX);

[[savingsLastYear, peach], [savingsCurrent, orange]].forEach(function(s) {
    svg.append("path").attr("d", savingsLine(s[0]))
        .attr("fill", "none").attr("stroke", s[1]).attr("stroke-width", 4);
    svg.selectAll(null).data(s[0]).enter().append("circle")
        .attr("cx", function(d, i) { return savingsX(quarters[i]); })
        .attr("cy", function(d) { return savingsY(d); })
        .attr("r", 5.5)
        .attr("fill", s[1]);
});

svg.append("circle").attr("cx", 1843).attr("cy", 759).attr("r", 9).attr("fill", orange);
svg.append("text").attr("class", "tick-label").attr("x", 1861).attr("y", 766).text("Current Period");
svg.append("circle").attr("cx", 2031).attr("cy", 759).attr("r", 9).attr("fill", peach);
svg.append("text").attr("class", "tick-label").attr("x", 2049).attr("y", 766).text("Same Period Las Year");

yTitle(1707, 993, "AI-Driven Cost Savings ($)");
label(svg, "axis-title", 2493, 1272, "Quarter");

//QUERIES BY REGION
card(20, 1311, 1274, 1963);
label(svg, "card-title", 647, 1358, "AI-Assisted Queries by Region");

var regionX = d3.scaleLinear().domain([0, 12000]).range([241, 1235.5]);
var regionY = d3.scaleBand().domain(regions).range([1398, 1877]).paddingInner(0.44).paddingOuter(0.22);

svg.selectAll(".region-bar").data(regionQueries).enter().append("rect")
    .attr("class", "region-bar")
    .attr("x", regionX(0))
    .attr("y", function(d, i) { return regionY(regions[i]); })
    .attr("width", function(d) { return regionX(d) - regionX(0); })
    .attr("height", regionY.bandwidth())
    .attr("fill", orange);

svg.append("g").attr("transform", "translate(241,0)")
    .call(d3.axisLeft(regionY).tickSize(0).tickPadding(22))
    .call(styleAxis, 1.5, 0, "0.26em");
svg.append("g").attr("transform", "translate(0,1877)")
    .call(d3.axisBottom(regionX).tickValues(regionTicks).tickFormat(d3.format(",")).tickSize(0).tickPadding(26))
    .call(styleAxis, 3, 0, "0.71em");

yTitle(60, 1637, "Region");
label(svg, "axis-title", 738, 1954, "AI-Assisted Cases (#)");

//RESOLUTIONS BY TEAM
card(1302, 1308, 2292, 1962);
label(svg, "card-title", 1797, 1355, "Autonomous AI Resolutions  by Engineering Team");

var teamX = d3.scaleBand().domain(teams).range([1434, 2272]).paddingInner(0.44).paddingOuter(0.22);
var teamY = d3.scaleLinear().domain([0, 8000]).range([1875, 1394]);

svg.selectAll(".team-bar").data(teamResolutions).enter().append("rect")
    .attr("class", "team-bar")
    .attr("x", function(d, i) { return teamX(teams[i]); })
    .attr("y", function(d) { return teamY(d); })
    .attr("width", teamX.bandwidth())
    .attr("height", function(d) { return teamY(0) - teamY(d); })
    .attr("fill", orange);

svg.append("g").attr("transform", "translate(1434,0)")
    .call(d3.axisLeft(teamY).tickValues(teamTicks).tickFormat(d3.format(",")).tickSize(0).tickPadding(23))
    .call(styleAxis, 1.5, 0, "0.25em");
svg.append("g").attr("transform", "translate(0,1875)")
    .call(d3.axisBottom(teamX).tickSize(0).tickPadding(26))
    .call(styleAxis, 3, 0, "0.71em");

yTitle(1346, 1635, "Autonomous AI Resolutions (#)");
label(svg, "axis-title", 1852, 1953, "Engineering Team");

//WORLD MAP
card(2324, 1313, 3185, 1961, "#e6e6e6");
label(svg, "card-title", 2753, 1361, "Token Utilization Efficiency by Region");
svg.append("text").attr("x", 2344).attr("y", 1421).attr("fill", "#222")
    .style("font-size", "25.5px").style("font-weight", 300).text("World Map");

var mapColor = d3.scaleLinear().domain([0, 10]).range(["#fdf6f1", "#e69c75"]);

var gradient = defs.append("linearGradient").attr("id", "mapLegend");
[0, 10].forEach(function(v) {
    gradient.append("stop").attr("offset", (v * 10) + "%").attr("stop-color", mapColor(v));
});
svg.append("rect").attr("x", 2372).attr("y", 1482).attr("width", 764).attr("height", 30).attr("fill", "url(#mapLegend)");
svg.append("text").attr("x", 2355).attr("y", 1505).attr("text-anchor", "middle").attr("fill", "#1c2b4a").style("font-size", "26px").text("0");
svg.append("text").attr("x", 3140).attr("y", 1505).attr("fill", "#1c2b4a").style("font-size", "26px").text("10");

var mercator = d3.geoMercator().scale(100).translate([2754, 1820]);
// planar so the short hand-made rings do not need spherical winding
var planar = d3.geoTransform({
    point: function(lon, lat) {
        var p = mercator([lon, lat]);
        this.stream.point(p[0], p[1]);
    }
});
var mapPath = d3.geoPath(planar);

var mapFeatures = Object.keys(mapShapes).map(function(name) {
    return {
        type: "Feature",
        properties: { name: name },
        geometry: {
            type: "MultiPolygon",
            coordinates: mapShapes[name].map(function(ring) {
                return [ring.split(" ").map(function(p) { return p.split(",").map(Number); })];
            })
        }
    };
});

svg.append("g").attr("filter", "url(#mapSoft)").selectAll("path").data(mapFeatures).enter().append("path")
    .attr("d", mapPath)
    .attr("fill", function(d) { return mapColor(mapValues[d.properties.name]); })
    .attr("stroke", "#a89a90")
    .attr("stroke-opacity", 0.5)
    .attr("stroke-width", 0.9);

</script>
</body>
</html>
